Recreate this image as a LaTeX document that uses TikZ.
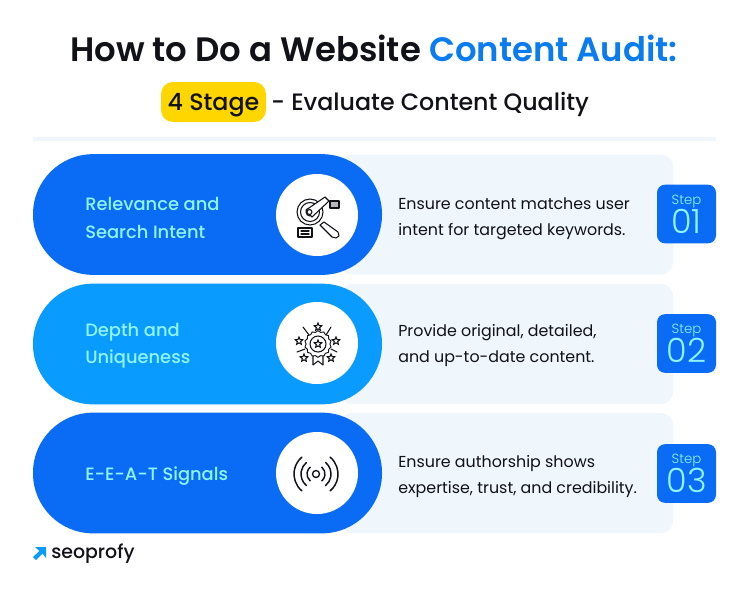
\documentclass[tikz,border=0pt]{standalone}
\usepackage{fontspec}
\setmainfont{Poppins}
\newfontfamily\lightface{Poppins Light}
\newfontfamily\mediumface{Poppins Medium}
\newfontfamily\semiface{Poppins SemiBold}
\usetikzlibrary{shapes,arrows,positioning}

\definecolor{RoyalBlue}{HTML}{0A6CF5}
\definecolor{SkyBlue}{HTML}{0A9BFF}
\definecolor{PaleBlue}{HTML}{EFF6FC}
\definecolor{Aqua}{HTML}{8FF5FF}
\definecolor{TitleBlue}{HTML}{0A7CF0}
\definecolor{Badge}{HTML}{FFD600}
\definecolor{Ink}{HTML}{111118}

\begin{document}
\begin{tikzpicture}[x=0.75pt,y=-0.75pt]
		\tikzstyle{Panel}	= [rectangle, fill=PaleBlue, rounded corners=9pt, minimum width=249.75pt, minimum height=90pt, inner sep=0pt]
		\tikzstyle{Pill}	= [rectangle, fill=RoyalBlue, rounded corners=45pt, minimum width=261.75pt, minimum height=90.5pt, inner sep=0pt]
		\tikzstyle{Disc}	= [circle, fill=white, minimum size=61.5pt, inner sep=0pt]
		\tikzstyle{StepBox}	= [rectangle, fill=RoyalBlue, rounded corners=6pt, minimum width=44.25pt, minimum height=44pt, inner sep=0pt]
		\tikzstyle{Head}	= [anchor=west, align=left, inner sep=0pt, text=Aqua, font=\mediumface\fontsize{13.4pt}{20.5pt}\selectfont]
		\tikzstyle{Body}	= [anchor=west, align=left, inner sep=0pt, text=Ink, font=\fontsize{11.9pt}{19.5pt}\selectfont]
		\tikzstyle{StepWord}	= [text=Aqua, inner sep=0pt, font=\lightface\fontsize{10pt}{12pt}\selectfont]
		\tikzstyle{StepNum}	= [text=Aqua, inner sep=0pt, font=\lightface\fontsize{25pt}{28pt}\selectfont]
		\tikzstyle{Icon}	= [draw=Ink, line width=0.8pt, line cap=round, line join=round]
		\tikzstyle{Tiny}	= [star, star points=5, star point ratio=2.2, draw=Ink, line width=0.8pt, fill=white, minimum size=6pt, inner sep=0pt]

		\useasboundingbox (0,0) rectangle (748,593);
		\fill [white] (0,0) rectangle (748,593);

		\node (title) at (374,48) [text=Ink, font=\semiface\fontsize{25.4pt}{30pt}\selectfont] {How to Do a Website \textcolor{TitleBlue}{Content Audit:}};
		\node (badge) at (213.5,102) [rectangle, fill=Badge, rounded corners=9pt, minimum width=78.75pt, minimum height=30pt, inner sep=0pt, text=Ink, font=\mediumface\fontsize{17.8pt}{20pt}\selectfont] {\raisebox{-6pt}[0pt][0pt]{4 Stage}};
		\node (subtitle) [right=3.5pt of badge.east, yshift=-1.5pt, text=Ink, inner sep=0pt, font=\mediumface\fontsize{17.8pt}{20pt}\selectfont] {- Evaluate Content Quality};
		\node (rule) at (374.5,138.5) [rectangle, fill=PaleBlue, minimum width=512.25pt, minimum height=3pt, inner sep=0pt] {};

		% first row
		\node (panel1) at (506.5,214.5) [Panel] {};
		\node (pill1) at (207.5,214.5) [Pill] {};
		\node (disc1) at (317,215) [Disc] {};
		\node (head1) at (85,218) [Head] {Relevance and\\Search Intent};
		\node (body1) at (398,218.5) [Body] {Ensure content matches user\\intent for targeted keywords.};
		\node (box1) at (686.5,214) [StepBox] {};
		\node (word1) at (686.5,201.5) [StepWord] {Step};
		\node (num1) at (686.5,221) [StepNum] {01};

		% second row
		\node (panel2) at (506.5,344) [Panel] {};
		\node (pill2) at (207.5,344) [Pill, fill=SkyBlue] {};
		\node (disc2) at (317,343) [Disc] {};
		\node (head2) at (85,346) [Head] {Depth and\\Uniqueness};
		\node (body2) at (398,346) [Body] {Provide original, detailed,\\and up-to-date content.};
		\node (box2) at (686.5,343.5) [StepBox] {};
		\node (word2) at (686.5,330.5) [StepWord] {Step};
		\node (num2) at (686.5,350) [StepNum] {02};

		% third row
		\node (panel3) at (506.5,473) [Panel] {};
		\node (pill3) at (207.5,473) [Pill] {};
		\node (disc3) at (317,473) [Disc] {};
		\node (head3) at (85,476) [Head] {E-E-A-T Signals};
		\node (body3) at (398,476.5) [Body] {Ensure authorship shows\\expertise, trust, and credibility.};
		\node (box3) at (686.5,473.5) [StepBox] {};
		\node (word3) at (686.5,460.5) [StepWord] {Step};
		\node (num3) at (686.5,480) [StepNum] {03};

		% magnifier
		\coordinate (lens) at (310,212);
		\draw [Icon] (lens) circle (13);
		\draw [Icon] (lens) circle (9.5);
		\draw [Icon] (lens) circle (4);
		\draw [Icon, fill=white] (306,210) -- (325,197) -- (329,201) -- (312,217) -- cycle;
		\draw [Icon, fill=white] (309.5,212) circle (2.5);
		\draw [Icon, fill=white] (320,225) -- (324,222) -- (338,232) -- (339,236) -- (336,238) -- (332,237) -- cycle;
		\draw [Icon, fill=Ink!30] (330,201) rectangle (339,208);
		\draw [Icon] (298,228) rectangle (312,237);
		\draw [Icon] (301,231) -- (309,231);
		\draw [Icon] (301,234) -- (309,234);

		% medal
		\coordinate (medal) at (318,344);
		\draw [Icon, fill=white] (313,352) -- (313,365) -- (318,361) -- (323,365) -- (323,352) -- cycle;
		\node (rosette) at (medal) [star, star points=14, star point ratio=1.12, draw=Ink, line width=0.7pt, fill=white, minimum size=20pt, inner sep=0pt] {};
		\draw [Icon] (medal) circle (8);
		\node (star0) at (medal) [Tiny] {};
		\node (star1) at (318,327) [Tiny] {};
		\node (star2) at (299,341) [Tiny] {};
		\node (star3) at (336,341) [Tiny] {};
		\node (star4) at (304,358) [Tiny] {};
		\node (star5) at (331,358) [Tiny] {};
		\draw [Icon] (303,327) -- (309,335);
		\draw [Icon] (331,327) -- (326,335);
		\draw [Icon] (297,352) -- (305,349);
		\draw [Icon] (337,352) -- (331,349);

		% signal
		\coordinate (signal) at (316,474);
		\draw [Icon, line width=1pt] (signal) circle (3.5);
		\foreach \r in {9,15,22} {
			\draw [Icon, line width=1.1pt] ([shift={(-50:\r)}]signal) arc [start angle=-50, end angle=50, radius=\r];
			\draw [Icon, line width=1.1pt] ([shift={(130:\r)}]signal) arc [start angle=130, end angle=230, radius=\r];
		}

		% logo
		\fill [SkyBlue] (35,547) -- (46,547) -- (46,558) -- (42.5,553.5) -- (36,560) -- (33,557) -- (39.5,551) -- cycle;
		\node (logo) at (51,554) [anchor=west, inner sep=0pt, text=Ink, font=\mediumface\fontsize{14.2pt}{16pt}\selectfont] {seoprofy};
\end{tikzpicture}
\end{document}
